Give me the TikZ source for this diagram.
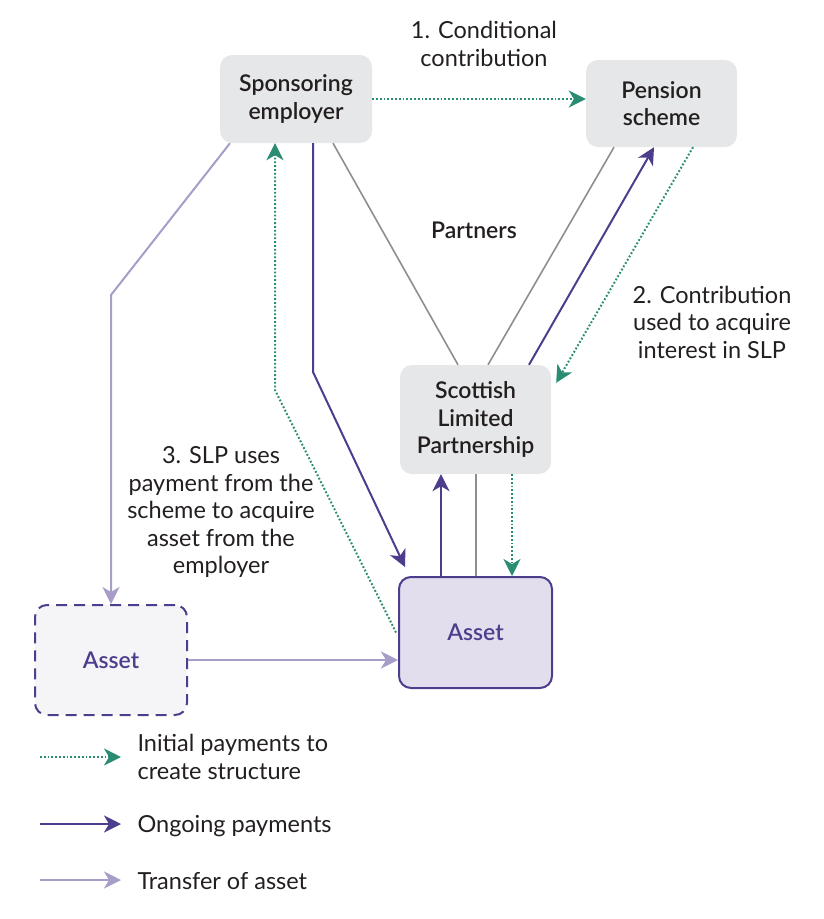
\documentclass[tikz,border=0pt]{standalone}
\usepackage{fontspec}
\setmainfont{Lato}
\newfontfamily\semib{Lato Semibold}
\usetikzlibrary{arrows.meta,calc}
\definecolor{teal}{HTML}{2A8C73}
\definecolor{dpurple}{HTML}{4E3C8C}
\definecolor{lav}{HTML}{A89CC9}
\definecolor{lgrey}{HTML}{8E8E8E}
\definecolor{boxgrey}{HTML}{E6E7E8}
\definecolor{assetfill}{HTML}{E3DEEE}
\definecolor{dashfill}{HTML}{F5F5F8}
\definecolor{txt}{HTML}{231F20}
\begin{document}
\begin{tikzpicture}[x=1pt,y=-1pt,
  tip/.style={-{Stealth[length=17pt,width=17pt,inset=5pt]}},
  greybox/.style={fill=boxgrey,rounded corners=12pt,align=center,text=txt,font=\semib\fontsize{23}{27.5}\selectfont},
  assetbox/.style={fill=assetfill,draw=dpurple,line width=2pt,rounded corners=12pt,text=dpurple,font=\semib\fontsize{23}{27.5}\selectfont},
  dashbox/.style={fill=dashfill,draw=dpurple,line width=2pt,dash pattern=on 11pt off 7pt,rounded corners=12pt,text=dpurple,font=\semib\fontsize{23}{27.5}\selectfont},
  lbl/.style={align=center,text=txt,font=\fontsize{23.5}{27.5}\selectfont},
  initial/.style={tip,draw=teal,line width=2pt,dash pattern=on 1.8pt off 2pt},
  ongoing/.style={tip,draw=dpurple,line width=2pt},
  transfer/.style={tip,draw=lav,line width=2pt},
  partner/.style={draw=lgrey,line width=1.6pt},
]
\useasboundingbox (0,0) rectangle (824,919);
% boxes
\node[greybox,minimum width=152pt,minimum height=88pt,inner sep=2pt] (emp) at (296,99) {Sponsoring\\employer};
\node[greybox,minimum width=151pt,minimum height=87pt,inner sep=2pt] (pen) at (661.5,103.5) {Pension\\scheme};
\node[greybox,minimum width=151pt,minimum height=109pt,inner sep=2pt] (slp) at (475.5,419.5) {Scottish\\Limited\\Partnership};
\node[assetbox,minimum width=153pt,minimum height=111pt] (asset) at (475.5,632.5) {Asset};
\node[dashbox,minimum width=152pt,minimum height=110pt] (dasset) at (111,660) {Asset};
% labels
\node[lbl] (l1) at (484,44) {1. Conditional\\contribution};
\node[lbl] (l2) at (712,322) {2. Contribution\\used to acquire\\interest in SLP};
\node[lbl] (l3) at (221,512) {3. SLP uses\\payment from the\\scheme to acquire\\asset from the\\employer};
\node[lbl,font=\semib\fontsize{23}{27.5}\selectfont] (partners) at (474,230) {Partners};
% partner lines
\draw[partner] ($(emp.south)+(37,0)$) -- ($(slp.north)+(-17.5,0)$);
\draw[partner] ($(pen.south)+(-47.5,0)$) -- ($(slp.north)+(12.5,0)$);
\draw[partner] ($(asset.north)+(0.5,0)$) -- ($(slp.south)+(0.5,0)$);
% initial payments
\draw[initial] (emp.east) -- (pen.west |- emp.east);
\draw[initial] ($(pen.south)+(31.5,0)$) -- ($(slp.north east)+(5,18)$);
\draw[initial] ($(slp.south)+(36.5,0)$) -- ($(asset.north)+(36.5,0)$);
\coordinate (t1) at (275,390);
\draw[initial] ($(asset.west)+(-2,0)$) -- (t1) -- ($(emp.south)+(-21,0)$);
% ongoing payments
\draw[ongoing] ($(slp.north)+(53.5,0)$) -- ($(pen.south)+(-7.5,0)$);
\draw[ongoing] ($(asset.north)+(-34.5,0)$) -- ($(slp.south)+(-34.5,0)$);
\coordinate (o1) at (313,372);
\draw[ongoing] ($(emp.south)+(17,0)$) -- (o1) -- ($(asset.north west)+(7,-9)$);
% transfer
\coordinate (v1) at (111,295);
\draw[transfer] ($(emp.south)+(-66,0)$) -- (v1) -- (dasset.north);
\draw[transfer] (dasset.east) -- (asset.west |- dasset.east);
% legend
\coordinate (a1) at (40,757); \coordinate (b1) at (121,757);
\coordinate (a2) at (40,824); \coordinate (b2) at (121,824);
\coordinate (a3) at (40,880); \coordinate (b3) at (121,880);
\draw[initial] (a1) -- (b1);
\draw[ongoing] (a2) -- (b2);
\draw[transfer] (a3) -- (b3);
\node[lbl,align=left,anchor=west] (g1) at (134,757) {Initial payments to\\create structure};
\node[lbl,anchor=west] (g2) at (134,826) {Ongoing payments};
\node[lbl,anchor=west] (g3) at (134,881) {Transfer of asset};
\end{tikzpicture}
\end{document}
